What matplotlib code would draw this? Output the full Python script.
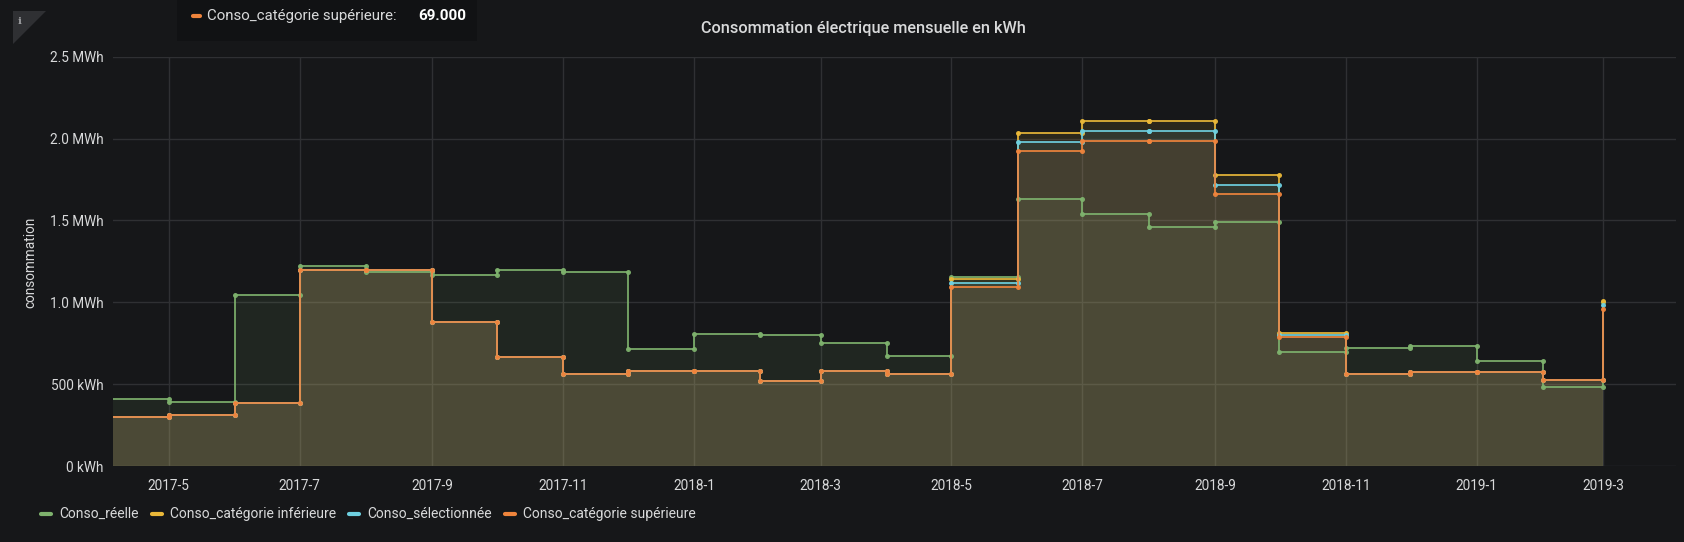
import numpy as np
import pandas as pd
import matplotlib
matplotlib.use("Agg")
import matplotlib.pyplot as plt
import matplotlib.dates as mdates
from matplotlib.ticker import FuncFormatter
from matplotlib.lines import Line2D
from matplotlib.patches import Rectangle, Polygon

# --- donnees (kWh par mois, debut de mois) ---
mois = pd.date_range("2017-04-01", periods=24, freq="MS")

conso_reelle = [412, 388, 1042, 1221, 1185, 1165, 1195, 1183, 717, 809, 801, 749,
                673, 1152, 1628, 1540, 1457, 1492, 699, 721, 735, 641, 484, 1000]
conso_inferieure = [301, 311, 384, 1195, 1198, 882, 663, 560, 578, 578, 522, 578,
                    560, 1140, 2036, 2105, 2105, 1775, 811, 560, 576, 576, 524, 1006]
conso_selection = [301, 311, 384, 1195, 1198, 882, 663, 560, 578, 578, 522, 578,
                   560, 1117, 1980, 2047, 2047, 1719, 801, 560, 576, 576, 524, 982]
conso_superieure = [301, 311, 384, 1195, 1198, 882, 663, 560, 578, 578, 522, 578,
                    560, 1095, 1923, 1988, 1988, 1664, 787, 560, 576, 576, 524, 958]

series = [
    ("Conso_réelle", conso_reelle, "#7eb26d"),
    ("Conso_catégorie inférieure", conso_inferieure, "#eab839"),
    ("Conso_sélectionnée", conso_selection, "#6ed0e0"),
    ("Conso_catégorie supérieure", conso_superieure, "#ef843c"),
]

BG = "#161719"
TXT = "#d8d9da"
GRID = "#2f3033"

plt.rcParams["font.family"] = ["Roboto", "DejaVu Sans"]


def escalier(valeurs):
    """points d'un escalier : chaque valeur tenue jusqu'au mois suivant"""
    debuts = mdates.date2num(mois.to_pydatetime())
    xs, ys = [], []
    for i, v in enumerate(valeurs):
        xs.append(debuts[i])
        ys.append(v)
        if i < len(valeurs) - 1:
            xs.append(debuts[i + 1])
            ys.append(v)
    return np.array(xs), np.array(ys)


def px(x, y):
    # pixels de l'image -> coordonnees figure
    return x / 1684, 1 - y / 542


fig = plt.figure(figsize=(16.84, 5.42), dpi=100, facecolor=BG)
ax = fig.add_axes([113 / 1684, 1 - 466 / 542, (1676 - 113) / 1684, (466 - 56.7) / 542])
ax.set_facecolor(BG)

for nom, vals, couleur in series:
    xs, ys = escalier(vals)
    ax.fill_between(xs, ys, 0, color=couleur, alpha=0.1, lw=0)
    ax.plot(xs, ys, color=couleur, lw=1.3, marker="o", ms=3.6, mew=0, alpha=0.95)

ax.set_xlim(mdates.date2num(pd.Timestamp("2017-04-05")), mdates.date2num(pd.Timestamp("2019-04-04")))
ax.set_ylim(0, 2500)
ax.set_yticks([0, 500, 1000, 1500, 2000, 2500])


def fmt_kwh(v, pos):
    if v == 0:
        return "0 kWh"
    if v < 1000:
        return f"{v:.0f} kWh"
    return f"{v / 1000:.1f} MWh"


ax.yaxis.set_major_formatter(FuncFormatter(fmt_kwh))
ax.xaxis.set_major_locator(mdates.MonthLocator(bymonth=[1, 3, 5, 7, 9, 11]))
ax.xaxis.set_major_formatter(FuncFormatter(lambda x, pos: f"{mdates.num2date(x).year}-{mdates.num2date(x).month}"))

ax.grid(True, color=GRID, lw=1)
ax.set_axisbelow(True)
for s in ax.spines.values():
    s.set_visible(False)
ax.tick_params(length=0, colors=TXT, labelsize=9.8)
ax.tick_params(axis="x", pad=9)
ax.tick_params(axis="y", pad=7)

fig.text(*px(30, 262), "consommation", rotation=90, color=TXT,
         fontsize=9.8, ha="center", va="center")
fig.text(*px(863, 28), "Consommation électrique mensuelle en kWh",
         color=TXT, fontsize=11.7, fontweight="medium", ha="center", va="center")

# info coin
fig.add_artist(Polygon([px(13, 11), px(46, 11), px(13, 44)],
                       closed=True, transform=fig.transFigure, facecolor="#2f3033", edgecolor="none"))
fig.text(*px(20, 21), "i", color="#9fa0a3", fontsize=7.5, fontweight="bold",
         ha="center", va="center", family="DejaVu Serif")

# infobulle
fig.add_artist(Rectangle(px(177, 41), 300 / 1684, 41 / 542,
                         transform=fig.transFigure, facecolor="#111214", edgecolor="none"))
(x0, y0), (x1, _) = px(193, 16), px(200, 16)
fig.add_artist(Line2D([x0, x1], [y0, y0], transform=fig.transFigure, color="#ef843c",
                      lw=3, solid_capstyle="round"))
fig.text(*px(207, 16), "Conso_catégorie supérieure:", color=TXT, fontsize=10.8,
         ha="left", va="center")
fig.text(*px(418, 16), "69.000", color="#ffffff", fontsize=11, fontweight="bold",
         ha="left", va="center")

# legende
legende_x = [(39, 59), (150, 170), (347, 367), (503, 523)]
for (nom, vals, couleur), (sx, tx) in zip(series, legende_x):
    (a, yy), (b, _) = px(sx + 2, 514), px(sx + 12, 514)
    fig.add_artist(Line2D([a, b], [yy, yy], transform=fig.transFigure, color=couleur,
                          lw=3, solid_capstyle="round"))
    fig.text(*px(tx, 514), nom, color=TXT, fontsize=10, ha="left", va="center")

fig.savefig("out.png", dpi=100, facecolor=BG)
